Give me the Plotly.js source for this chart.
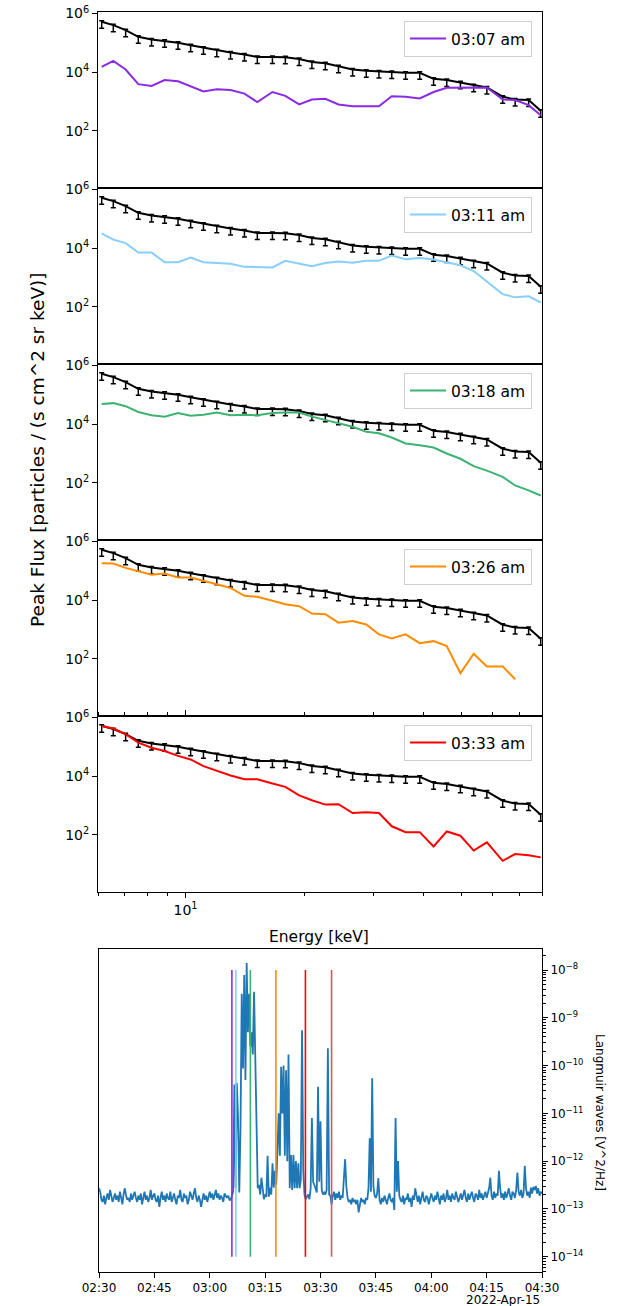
<!DOCTYPE html>
<html>
<head>
<meta charset="utf-8">
<script src="https://cdn.plot.ly/plotly-3.0.1.min.js"></script>
<style>
  html, body { margin: 0; padding: 0; background: #fff; }
  #chart { width: 618px; height: 1306px; }
</style>
</head>
<body>
<div id="chart"></div>
<script>
// Electron energy channels [keV]
const energies = [6.13, 6.56, 7.05, 7.59, 8.20, 8.85, 9.57, 10.3, 11.1, 12.0,
  13.0, 14.1, 15.2, 16.6, 17.9, 19.4, 20.9, 22.6, 24.4, 26.5,
  28.7, 30.9, 33.3, 36.1, 39.2, 42.5, 45.9, 49.7, 53.7, 58.0,
  63.6, 68.4, 74.0, 79.4];

// Event peak-flux spectrum (black, with error bars) shown in every panel
const referenceFlux = [5.2e5, 4.0e5, 2.7e5, 1.6e5, 1.3e5, 1.17e5, 1.0e5, 8.3e4, 6.8e4, 5.6e4,
  4.7e4, 4.0e4, 3.3e4, 3.3e4, 3.2e4, 2.8e4, 2.2e4, 2.0e4, 1.6e4, 1.23e4,
  1.12e4, 1.05e4, 1.02e4, 9.5e3, 9.5e3, 5.9e3, 5.4e3, 4.5e3, 3.6e3, 3.0e3,
  1.45e3, 1.17e3, 1.12e3, 4.8e2];

// Spectra at the individual snapshot times
const flux0307 = [1.5e4, 2.4e4, 1.23e4, 3.9e3, 3.4e3, 5.4e3, 4.9e3, 3.3e3, 2.2e3, 2.6e3,
  2.45e3, 1.86e3, 9.5e2, 2.1e3, 1.55e3, 7.9e2, 1.17e3, 1.23e3, 7.9e2, 6.9e2,
  6.9e2, 6.9e2, 1.5e3, 1.45e3, 1.26e3, 2.1e3, 2.95e3, 2.95e3, 2.95e3, 3.0e3,
  1.17e3, 1.12e3, 7.5e2, 3.4e2];
const flux0311 = [3.2e4, 1.95e4, 1.48e4, 7.1e3, 7.1e3, 3.3e3, 3.3e3, 4.8e3, 3.3e3, 3.1e3,
  2.95e3, 2.3e3, 2.3e3, 2.2e3, 3.7e3, 2.95e3, 2.4e3, 3.1e3, 3.5e3, 3.2e3,
  3.7e3, 3.7e3, 5.6e3, 4.2e3, 4.6e3, 4.1e3, 3.2e3, 2.6e3, 1.66e3, 7.2e2,
  2.7e2, 2.1e2, 2.3e2, 1.4e2];
const flux0318 = [4.9e4, 5.2e4, 4.1e4, 2.6e4, 2.0e4, 1.8e4, 2.4e4, 1.95e4, 2.1e4, 2.5e4,
  2.0e4, 2.1e4, 2.0e4, 2.4e4, 2.5e4, 2.5e4, 1.8e4, 1.4e4, 1.05e4, 8.1e3,
  5.5e3, 4.9e3, 3.5e3, 2.2e3, 1.9e3, 1.6e3, 1.0e3, 6.6e2, 3.7e2, 2.6e2,
  1.6e2, 81, 55, 37];
const flux0326 = [1.8e5, 1.78e5, 1.26e5, 9.8e4, 7.4e4, 8.1e4, 5.9e4, 5.9e4, 4.7e4, 3.5e4,
  2.6e4, 1.4e4, 1.3e4, 9.5e3, 7.2e3, 6.2e3, 3.5e3, 3.3e3, 1.7e3, 1.95e3,
  1.48e3, 6.8e2, 4.9e2, 6.8e2, 3.4e2, 4.0e2, 2.7e2, 32, 1.48e2, 55,
  55, 20, null, null];
const flux0333 = [5.1e5, 4.2e5, 2.7e5, 1.38e5, 9.3e4, 7.2e4, 4.9e4, 3.7e4, 2.2e4, 1.55e4,
  1.05e4, 7.8e3, 7.8e3, 5.6e3, 4.3e3, 2.2e3, 1.5e3, 1.07e3, 1.1e3, 5.5e2,
  5.9e2, 5.5e2, 1.95e2, 1.23e2, 1.23e2, 40, 1.3e2, 93, 29, 55,
  13, 22, 20, 17];

const snapshotLabels = ['03:07 am', '03:11 am', '03:18 am', '03:26 am', '03:33 am'];
const snapshotColors = ['#8a2be2', '#87cefa', '#3cb371', '#ff8c00', '#ff0000'];
const snapshotFlux = [flux0307, flux0311, flux0318, flux0326, flux0333];

// Langmuir wave power, 20 s cadence starting 2022-04-15 02:30:00 [V^2/Hz]
const waveStartUTC = Date.UTC(2022, 3, 15, 2, 30, 0);
const waveCadenceSec = 20;
const wavePower = [
  2.7e-13, 2.3e-13, 1.55e-13, 1.4e-13, 1.9e-13, 1.25e-13, 1.7e-13, 2.1e-13, 1.55e-13, 2.5e-13, 1.9e-13, 1.4e-13, 1.7e-13, 2.1e-13, 1.55e-13,
  1.9e-13, 1.4e-13, 2.3e-13, 1.7e-13, 1.25e-13, 2.1e-13, 2.7e-13, 1.9e-13, 1.55e-13, 1.7e-13, 1.4e-13, 2.1e-13, 1.55e-13, 1.9e-13, 2.3e-13,
  1.7e-13, 1.4e-13, 1.9e-13, 1.55e-13, 2.1e-13, 1.25e-13, 1.7e-13, 2.3e-13, 1.55e-13, 1.9e-13, 1.4e-13, 1.7e-13, 2.5e-13, 1.55e-13, 1.9e-13,
  2.1e-13, 1.55e-13, 1.4e-13, 1.9e-13, 1.1e-13, 1.7e-13, 2.3e-13, 1.55e-13, 1.9e-13, 1.4e-13, 2.1e-13, 1.7e-13, 1.55e-13, 2.3e-13, 1.4e-13,
  1.7e-13, 2.1e-13, 1.55e-13, 1.25e-13, 1.9e-13, 1.7e-13, 2.5e-13, 1.55e-13, 1.4e-13, 2.1e-13, 1.7e-13, 1.9e-13, 1.25e-13, 1.55e-13, 2.3e-13,
  1.9e-13, 1.55e-13, 2.1e-13, 2.7e-13, 1.7e-13, 1.4e-13, 1.9e-13, 1.55e-13, 1.1e-13, 1.7e-13, 2.1e-13, 1.55e-13, 1.9e-13, 1.4e-13, 1.7e-13,
  2.3e-13, 1.7e-13, 2.1e-13, 1.55e-13, 1.9e-13, 2.5e-13, 1.7e-13, 2.1e-13, 1.55e-13, 1.9e-13, 1.7e-13, 1.4e-13, 2.1e-13, 1.9e-13, 1.7e-13,
  1.9e-13, 1.55e-13, 1.55e-13, 1.9e-13, 2.3e-13, 4.0e-11, 2.7e-13, 4.3e-11, 8.0e-12, 2.2e-13, 5.0e-12, 3.2e-9, 8.7e-11, 7.9e-9, 5.0e-11,
  1.4e-8, 5.0e-10, 3.2e-9, 2.5e-10, 5.0e-10, 1.7e-10, 3.5e-9, 1.7e-10, 2.5e-11, 2.7e-13, 3.2e-13, 2.0e-13, 4.5e-13, 2.5e-13, 1.6e-13,
  2.0e-13, 1.8e-13, 1.3e-12, 1.8e-13, 2.8e-13, 2.0e-13, 9.0e-13, 2.8e-13, 6.3e-13, 3.2e-13, 1.6e-12, 1.0e-11, 1.3e-12, 9.5e-11, 1.0e-11,
  1.0e-10, 1.3e-12, 8.0e-11, 1.0e-12, 1.7e-10, 2.7e-13, 1.35e-12, 2.5e-13, 1.35e-12, 2.7e-13, 1.0e-12, 2.7e-13, 9.0e-13, 2.7e-13, 4.0e-13,
  5.5e-10, 6.3e-13, 2.0e-13, 1.6e-13, 1.8e-13, 2.0e-13, 1.6e-13, 2.7e-13, 8.0e-12, 3.7e-13, 3.2e-13, 2.5e-13, 2.2e-13, 3.6e-11, 3.7e-13,
  6.8e-12, 2.5e-13, 2.0e-13, 2.2e-13, 2.0e-13, 2.5e-13, 2.3e-10, 2.0e-13, 1.9e-13, 1.25e-13, 1.9e-13, 2.3e-13, 1.55e-13, 2.1e-13, 1.7e-13,
  2.3e-13, 1.55e-13, 1.9e-13, 1.7e-13, 6.3e-13, 1.1e-12, 3.0e-13, 1.7e-13, 1.4e-13, 1.55e-13, 1.25e-13, 1.7e-13, 1.4e-13, 1.55e-13, 1.25e-13,
  1.55e-13, 0.85e-13, 1.4e-13, 1.7e-13, 1.4e-13, 1.55e-13, 1.25e-13, 1.7e-13, 1.55e-13, 2.7e-13, 3.0e-12, 2.3e-13, 5.4e-11, 3.0e-13, 1.9e-13,
  1.7e-13, 2.1e-13, 4.4e-13, 1.55e-13, 1.25e-13, 1.7e-13, 1.4e-13, 1.9e-13, 1.55e-13, 1.25e-13, 1.7e-13, 2.1e-13, 1.55e-13, 1.4e-13, 1.7e-13,
  0.95e-13, 8.0e-12, 2.3e-13, 1.0e-12, 1.9e-13, 1.55e-13, 1.4e-13, 1.9e-13, 1.25e-13, 1.7e-13, 1.55e-13, 2.1e-13, 1.4e-13, 1.7e-13, 1.1e-13,
  1.9e-13, 1.55e-13, 2.7e-13, 1.7e-13, 1.4e-13, 1.9e-13, 1.25e-13, 1.7e-13, 2.3e-13, 1.55e-13, 1.4e-13, 1.9e-13, 1.7e-13, 1.25e-13, 1.55e-13,
  2.1e-13, 1.7e-13, 1.4e-13, 1.9e-13, 1.55e-13, 2.3e-13, 1.7e-13, 1.25e-13, 1.9e-13, 1.55e-13, 2.1e-13, 1.4e-13, 1.7e-13, 2.5e-13, 1.55e-13,
  1.9e-13, 1.4e-13, 2.1e-13, 1.7e-13, 1.55e-13, 2.3e-13, 1.9e-13, 1.4e-13, 1.7e-13, 2.1e-13, 1.55e-13, 1.9e-13, 2.5e-13, 1.7e-13, 1.4e-13,
  2.1e-13, 1.55e-13, 1.9e-13, 2.3e-13, 1.7e-13, 1.4e-13, 2.1e-13, 1.9e-13, 1.55e-13, 2.5e-13, 1.7e-13, 2.1e-13, 1.55e-13, 1.9e-13, 2.3e-13,
  1.7e-13, 2.1e-13, 2.7e-13, 4.5e-13, 1.9e-13, 1.55e-13, 2.3e-13, 1.7e-13, 2.1e-13, 1.9e-13, 6.3e-13, 2.7e-13, 1.7e-13, 2.1e-13, 1.55e-13,
  2.3e-13, 1.7e-13, 2.1e-13, 2.7e-13, 1.9e-13, 1.55e-13, 2.3e-13, 2.1e-13, 1.7e-13, 2.5e-13, 5.8e-13, 2.3e-13, 1.9e-13, 2.5e-13, 1.7e-13,
  2.1e-13, 8.0e-13, 2.7e-13, 1.9e-13, 2.3e-13, 1.7e-13, 2.8e-13, 2.1e-13, 2.9e-13, 2.5e-13, 3.0e-13, 2.1e-13, 2.7e-13, 1.9e-13, 2.3e-13,
  2.1e-13
];

// Snapshot markers on the wave time series
const markerTimes = ['2022-04-15 03:06:00', '2022-04-15 03:07:05', '2022-04-15 03:11:00',
  '2022-04-15 03:17:55', '2022-04-15 03:25:55', '2022-04-15 03:33:00'];
const markerColors = ['#8a2be2', '#87cefa', '#3cb371', '#ff8c00', '#ff0000', '#cd5c5c'];

const timeTickVals = ['2022-04-15 02:30', '2022-04-15 02:45', '2022-04-15 03:00', '2022-04-15 03:15',
  '2022-04-15 03:30', '2022-04-15 03:45', '2022-04-15 04:00', '2022-04-15 04:15', '2022-04-15 04:30'];
const timeTickText = ['02:30', '02:45', '03:00', '03:15', '03:30', '03:45', '04:00', '04:15', '04:30'];

// ---------------------------------------------------------------------------
const W = 618, H = 1306;
const FONT = 'DejaVu Sans, Liberation Sans, sans-serif';
const fx = px => px / W;
const fy = px => 1 - px / H;

const panelTop = [12, 188, 364, 540, 716];
const panelH = 176;

const waveTimes = wavePower.map((_, i) =>
  new Date(waveStartUTC + i * waveCadenceSec * 1000).toISOString().slice(0, 19).replace('T', ' '));

const traces = [];
snapshotFlux.forEach((flux, k) => {
  const yax = k === 0 ? 'y' : 'y' + (k + 1);
  traces.push({
    x: energies, y: referenceFlux, xaxis: 'x', yaxis: yax,
    mode: 'lines', line: { color: '#000', width: 2 },
    error_y: { type: 'percent', symmetric: false, value: 8, valueminus: 40,
               color: '#000', thickness: 1.5, width: 2.5 },
    showlegend: false, hoverinfo: 'skip'
  });
  traces.push({
    x: energies, y: flux, xaxis: 'x', yaxis: yax,
    mode: 'lines', line: { color: snapshotColors[k], width: 2 },
    name: snapshotLabels[k], legend: k === 0 ? 'legend' : 'legend' + (k + 1),
    showlegend: true, connectgaps: false
  });
});

traces.push({
  x: waveTimes, y: wavePower, xaxis: 'x2', yaxis: 'y6',
  mode: 'lines', line: { color: '#1f77b4', width: 1.8 }, showlegend: false
});
markerTimes.forEach((t, i) => {
  traces.push({
    x: [t, t], y: [1e-14, 1e-8], xaxis: 'x2', yaxis: 'y6',
    mode: 'lines', line: { color: markerColors[i], width: 1.6 }, showlegend: false
  });
});

const sup = (b, e) => b + '<sup>' + e + '</sup>';

const layout = {
  width: W, height: H,
  margin: { l: 0, r: 0, t: 0, b: 0 },
  paper_bgcolor: '#fff', plot_bgcolor: '#fff',
  font: { family: FONT, color: '#000', size: 14 },
  xaxis: {
    domain: [fx(98), fx(542)], anchor: 'y5', type: 'log',
    range: [Math.log10(6.0), Math.log10(80)],
    tickmode: 'array', tickvals: [10], ticktext: [sup('10', '1')],
    ticks: 'outside', ticklen: 5, tickwidth: 1, tickcolor: '#000',
    minor: { tickmode: 'array', tickvals: [6, 7, 8, 9, 20, 30, 40, 50, 60, 70, 80],
             ticks: 'outside', ticklen: 3, tickwidth: 1, tickcolor: '#000' },
    showline: true, linecolor: '#000', linewidth: 1, mirror: 'all',
    showgrid: false, zeroline: false, tickfont: { size: 14 }
  },
  xaxis2: {
    domain: [fx(99), fx(542)], anchor: 'y6', type: 'date',
    range: ['2022-04-15 02:30', '2022-04-15 04:30'],
    tickmode: 'array', tickvals: timeTickVals, ticktext: timeTickText,
    ticks: 'outside', ticklen: 5, tickwidth: 1, tickcolor: '#000',
    showline: true, linecolor: '#000', linewidth: 1, mirror: true,
    showgrid: false, zeroline: false, tickfont: { size: 12 }
  },
  annotations: [
    { text: 'Peak Flux [particles / (s cm^2 sr keV)]', xref: 'paper', yref: 'paper',
      x: fx(37), y: fy(450), textangle: -90, showarrow: false,
      xanchor: 'center', yanchor: 'middle', font: { size: 18.5 } },
    { text: 'Energy [keV]', xref: 'paper', yref: 'paper',
      x: fx(319), y: fy(937), showarrow: false,
      xanchor: 'center', yanchor: 'middle', font: { size: 15.5 } },
    { text: 'Langmuir waves [V^2/Hz]', xref: 'paper', yref: 'paper',
      x: fx(600), y: fy(1112), textangle: 90, showarrow: false,
      xanchor: 'center', yanchor: 'middle', font: { size: 12 } },
    { text: '2022-Apr-15', xref: 'paper', yref: 'paper',
      x: fx(542), y: fy(1300), showarrow: false,
      xanchor: 'right', yanchor: 'middle', font: { size: 12 } }
  ]
};

const fluxTicks = [1e2, 1e4, 1e6];
const fluxTickText = [sup('10', '2'), sup('10', '4'), sup('10', '6')];
panelTop.forEach((top, k) => {
  const key = k === 0 ? 'yaxis' : 'yaxis' + (k + 1);
  layout[key] = {
    domain: [fy(top + panelH), fy(top)], anchor: 'x', type: 'log',
    range: [0.05, 6.05],
    tickmode: 'array', tickvals: fluxTicks, ticktext: fluxTickText,
    ticks: 'outside', ticklen: 5, tickwidth: 1, tickcolor: '#000',
    showline: true, linecolor: '#000', linewidth: 1, mirror: true,
    showgrid: false, zeroline: false, tickfont: { size: 14 }
  };
  const lkey = k === 0 ? 'legend' : 'legend' + (k + 1);
  layout[lkey] = {
    x: fx(532), y: fy(top + 9), xanchor: 'right', yanchor: 'top',
    bgcolor: 'rgba(255,255,255,0.85)', bordercolor: '#d0d0d0', borderwidth: 1,
    itemwidth: 36, font: { size: 15.5, color: '#000' }
  };
});

const waveDecades = [-14, -13, -12, -11, -10, -9, -8];
const waveMinor = [];
for (let d = -15; d <= -8; d++) {
  for (let m = 2; m <= 9; m++) waveMinor.push(m * Math.pow(10, d));
}
layout.yaxis6 = {
  domain: [fy(1272), fy(949)], anchor: 'x2', side: 'right', type: 'log',
  range: [-14.32, -7.56],
  tickmode: 'array',
  tickvals: waveDecades.map(d => Math.pow(10, d)),
  ticktext: waveDecades.map(d => sup('10', '\u2212' + Math.abs(d))),
  ticks: 'outside', ticklen: 5, tickwidth: 1, tickcolor: '#000',
  minor: { tickmode: 'array', tickvals: waveMinor, ticks: 'outside', ticklen: 2.5,
           tickwidth: 1, tickcolor: '#000' },
  showline: true, linecolor: '#000', linewidth: 1, mirror: true,
  showgrid: false, zeroline: false, tickfont: { size: 12 }
};

Plotly.newPlot('chart', traces, layout, { displayModeBar: false, staticPlot: true });
</script>
</body>
</html>
